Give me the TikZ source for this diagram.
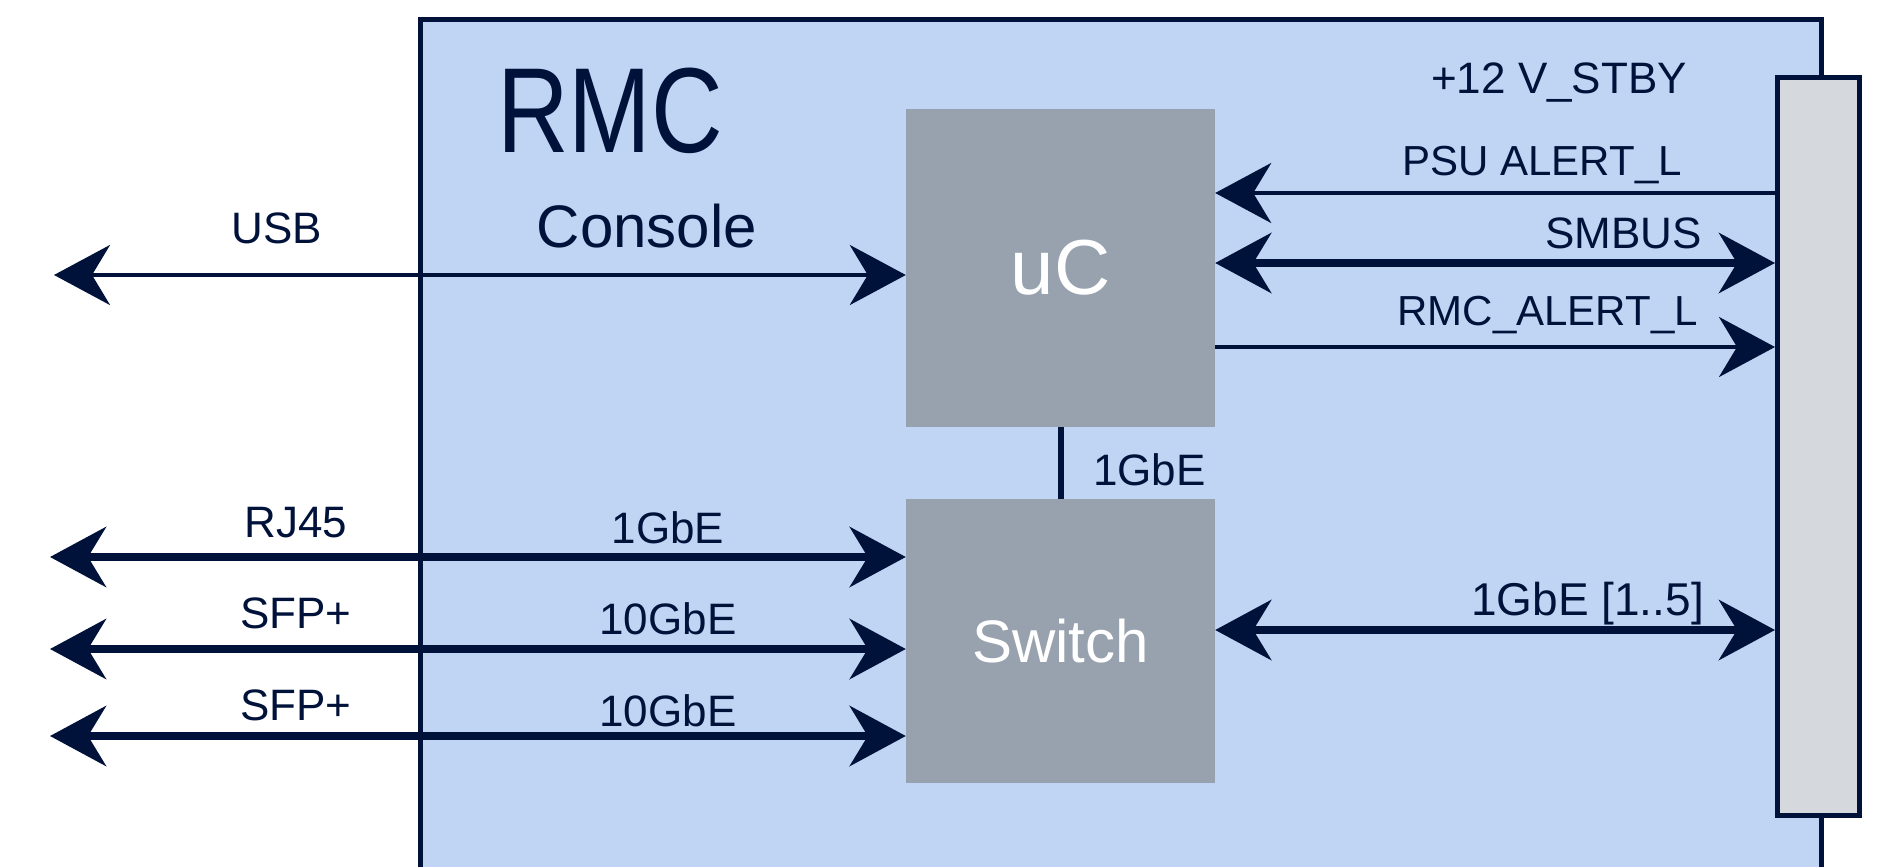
\documentclass[tikz,border=0pt]{standalone}
\usepackage{fontspec}
\setmainfont{Liberation Sans}
\newfontfamily\rmcfont[FakeStretch=0.82]{Liberation Sans}
\usetikzlibrary{arrows.meta}

\definecolor{rmcblue}{RGB}{192,212,244}
\definecolor{navy}{RGB}{0,18,58}
\definecolor{chipgray}{RGB}{152,162,174}
\definecolor{slotgray}{RGB}{213,216,221}

\tikzset{
    sig/.style={draw=navy, line width=4pt},
    bus/.style={draw=navy, line width=8pt},
    chip/.style={fill=chipgray, text=white, minimum width=309pt, inner sep=0pt},
    lbl/.style={text=navy, inner sep=0pt, font=\fontsize{44}{44}\selectfont},
}

\begin{document}
\begin{tikzpicture}[x=1pt, y=-1pt, >={Stealth[length=56pt, width=60pt, inset=18pt]}]
    \useasboundingbox (0,0) rectangle (1881,867);
    % board
    \fill [rmcblue] (420.5,19.5) rectangle (1821,867);
    \draw [navy, line width=5pt] (420.5,867) -- (420.5,19.5) -- (1821,19.5) -- (1821,867);
    \node [anchor=base west, text=navy, inner sep=0pt, font=\rmcfont\fontsize{121}{121}\selectfont] (rmc) at (497,152) {RMC};
    % blocks
    \node [chip, minimum height=318pt, font=\fontsize{78}{78}\selectfont] (uc) at (1060.5,268) {uC};
    \node [chip, minimum height=284pt, font=\fontsize{60}{60}\selectfont] (switch) at (1060.5,641) {Switch};
    \node [draw=navy, line width=5pt, fill=slotgray, minimum width=82pt, minimum height=738pt, inner sep=0pt] (slot) at (1818.5,446.5) {};
    \draw [navy, line width=6pt] (uc.south) -- (switch.north);
    \node [lbl, anchor=base west] (uplink) at (1093,485) {1GbE};
    % front ports
    \coordinate (usb) at (54,275);
    \coordinate (rj45) at (50,557);
    \coordinate (sfpa) at (50,649);
    \coordinate (sfpb) at (50,736);
    \draw [sig, <->] (usb) -- (uc.west |- usb);
    \draw [bus, <->] (rj45) -- (switch.west |- rj45);
    \draw [bus, <->] (sfpa) -- (switch.west |- sfpa);
    \draw [bus, <->] (sfpb) -- (switch.west |- sfpb);
    \node [lbl, anchor=base] (usbl) at (277,243) {USB};
    \node [lbl, anchor=base, font=\fontsize{60}{60}\selectfont] (console) at (647,247) {Console};
    \node [lbl, anchor=base] (rj45l) at (296,537) {RJ45};
    \node [lbl, anchor=base] (sfpal) at (296,628) {SFP+};
    \node [lbl, anchor=base] (sfpbl) at (296,720) {SFP+};
    \node [lbl, anchor=base] (rj45s) at (668,543) {1GbE};
    \node [lbl, anchor=base] (sfpas) at (668,634) {10GbE};
    \node [lbl, anchor=base] (sfpbs) at (668,726) {10GbE};
    % backplane
    \draw [sig, ->] (slot.west |- 0,193) -- (uc.east |- 0,193);
    \draw [bus, <->] (uc.east |- 0,263) -- (slot.west |- 0,263);
    \draw [sig, ->] (uc.east |- 0,347) -- (slot.west |- 0,347);
    \draw [bus, <->] (switch.east |- 0,630) -- (slot.west |- 0,630);
    \node [lbl, anchor=base east] (stby) at (1687,93) {+12 V\_STBY};
    \node [lbl, anchor=base east, font=\fontsize{42}{42}\selectfont] (psu) at (1682,175) {PSU ALERT\_L};
    \node [lbl, anchor=base east] (smbus) at (1702,248) {SMBUS};
    \node [lbl, anchor=base east, font=\fontsize{42}{42}\selectfont] (alert) at (1698,325) {RMC\_ALERT\_L};
    \node [lbl, anchor=base east, font=\fontsize{46}{46}\selectfont] (ports) at (1704,615) {1GbE [1..5]};
\end{tikzpicture}
\end{document}
